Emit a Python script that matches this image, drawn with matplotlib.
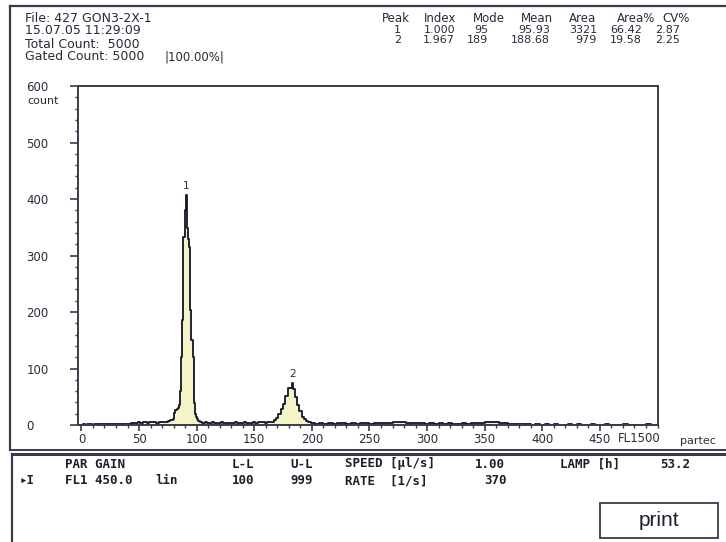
import numpy as np
import matplotlib
matplotlib.use("Agg")
import matplotlib.pyplot as plt
from matplotlib.patches import Rectangle
from matplotlib.lines import Line2D

# ---------------- data ----------------
# histogram channels (FL1) and counts
ch_bg0 = list(range(0, 46, 2))
cnt_bg0 = [0, 1, 0, 1, 1, 0, 1, 2, 1, 1, 2, 1, 1, 2, 1, 2, 2, 1, 2, 1, 2, 2, 3]
ch_bg1 = list(range(46, 79, 2))
cnt_bg1 = [3, 4, 5, 4, 6, 5, 4, 5, 6, 5, 4, 6, 5, 5, 6, 7, 8]
ch_pk1 = list(range(79, 104))
cnt_pk1 = [8, 10, 22, 27, 28, 30, 35, 60, 121, 186, 333, 380, 407, 348, 330,
           315, 203, 150, 121, 39, 20, 14, 10, 7, 5]
ch_bg2 = list(range(104, 166, 2))
cnt_bg2 = [5, 4, 5, 3, 4, 5, 4, 3, 4, 5, 4, 3, 4, 4, 3, 5, 4, 3, 4, 5, 4, 3, 4,
           5, 4, 5, 6, 5, 4, 5, 6]
ch_pk2 = [166, 168, 170, 172, 174, 176, 178, 180, 182, 183, 184, 186, 188, 190,
          192, 194, 196, 198, 200, 202]
cnt_pk2 = [6, 9, 13, 20, 28, 38, 52, 66, 66, 74, 64, 50, 36, 24, 15, 10, 7, 5,
           4, 3]
ch_bg3 = list(range(204, 301, 4))
cnt_bg3 = [2, 3, 2, 3, 2, 3, 3, 2, 3, 2, 3, 3, 2, 3, 4, 3, 4, 5, 6, 5, 4, 4, 3,
           3, 2]
ch_bg4 = list(range(304, 401, 4))
cnt_bg4 = [3, 2, 3, 2, 3, 2, 2, 3, 2, 3, 3, 4, 5, 6, 5, 4, 3, 2, 2, 1, 1, 1, 0,
           1, 0]
ch_bg5 = list(range(404, 501, 4))
cnt_bg5 = [1, 0, 1, 0, 0, 1, 0, 1, 0, 0, 1, 0, 0, 1, 0, 0, 0, 1, 0, 0, 0, 0, 1,
           0, 0]

peak_labels = ["1", "2"]
peak_pos = [91, 183]
peak_top = [407, 74]

y_ticks = [0, 100, 200, 300, 400, 500, 600]
x_ticks = [0, 50, 100, 150, 200, 250, 300, 350, 400, 450]

header_left = ["File: 427 GON3-2X-1", "15.07.05 11:29:09",
               "Total Count:  5000", "Gated Count: 5000"]
gated_pct = "|100.00%|"
stat_cols = ["Peak", "Index", "Mode", "Mean", "Area", "Area%", "CV%"]
stat_rows = [["1", "1.000", "95", "95.93", "3321", "66.42", "2.87"],
             ["2", "1.967", "189", "188.68", "979", "19.58", "2.25"]]

channels = np.array(ch_bg0 + ch_bg1 + ch_pk1 + ch_bg2 + ch_pk2 + ch_bg3 +
                    ch_bg4 + ch_bg5)
counts = np.array(cnt_bg0 + cnt_bg1 + cnt_pk1 + cnt_bg2 + cnt_pk2 + cnt_bg3 +
                  cnt_bg4 + cnt_bg5)

# ---------------- figure ----------------
W, H = 726, 542
fig = plt.figure(figsize=(W / 100, H / 100), dpi=100)
fig.patch.set_facecolor("white")

TXT = "#2a2a38"
FRAME = "#3a3a4a"


def fx(x):
    return x / W


def fy(y):
    return 1 - y / H


# outer frames
fig.add_artist(Line2D([fx(10), fx(10)], [fy(6), fy(450)], color=FRAME, lw=1.6))
fig.add_artist(Line2D([fx(10), fx(726)], [fy(6), fy(6)], color=FRAME, lw=1.6))
fig.add_artist(Line2D([fx(10), fx(726)], [fy(450), fy(450)], color=FRAME, lw=1.4))
fig.add_artist(Line2D([fx(12), fx(726)], [fy(454), fy(454)], color=FRAME, lw=2.2))
fig.add_artist(Line2D([fx(12), fx(12)], [fy(454), fy(542)], color=FRAME, lw=1.6))

# header text
hl_y = [18, 31, 44, 57]
for s, y in zip(header_left, hl_y):
    fig.text(fx(25), fy(y), s, fontsize=9, color=TXT, va="center", ha="left")
fig.text(fx(165), fy(57), gated_pct, fontsize=8.5, color=TXT, va="center",
         ha="left")

head_right = [410, 456, 505, 553, 596, 655, 690]
val_right = [401, 455, 488, 550, 597, 642, 680]
for s, xr in zip(stat_cols, head_right):
    fig.text(fx(xr), fy(18), s, fontsize=8.5, color=TXT, va="center",
             ha="right")
for r, y in zip(stat_rows, [30, 40]):
    for s, xr in zip(r, val_right):
        fig.text(fx(xr), fy(y), s, fontsize=8, color=TXT, va="center",
                 ha="right")

# ---------------- histogram axes ----------------
ax = fig.add_axes([fx(78), fy(425), (657.5 - 78) / W, (425 - 86) / H])
ax.fill_between(channels, counts, step="mid", color="#f4f4c6", lw=0)
ax.step(channels, counts, where="mid", color="#14142a", lw=1.3)
ax.set_xlim(-3, 500)
ax.set_ylim(0, 600)

for s, xp, yp in zip(peak_labels, peak_pos, peak_top):
    ax.text(xp, yp + 8, s, fontsize=7.5, color=TXT, ha="center", va="bottom")

for sp in ax.spines.values():
    sp.set_color(FRAME)
    sp.set_linewidth(1.4)

ax.set_yticks(y_ticks)
ax.set_yticks(np.arange(0, 601, 20), minor=True)
ax.set_xticks(x_ticks)
ax.set_xticks(np.arange(0, 501, 10), minor=True)
ax.tick_params(axis="y", which="major", length=6, width=1.2, color=FRAME,
               labelsize=8.5, labelcolor=TXT, pad=31)
ax.tick_params(axis="y", which="minor", length=2.5, width=1.0, color=FRAME)
ax.tick_params(axis="x", which="major", length=4, width=1.2, color=FRAME,
               labelsize=8.5, labelcolor=TXT, pad=2)
ax.tick_params(axis="x", which="minor", length=2.5, width=1.0, color=FRAME)
ax.set_yticklabels([str(v) for v in y_ticks], ha="left")
ax.set_xticklabels([str(v) for v in x_ticks])

fig.text(fx(27), fy(101), "count", fontsize=8, color=TXT, va="center",
         ha="left")
fig.text(fx(661), fy(438), "FL1500", fontsize=8.5, color=TXT, va="center",
         ha="right")
fig.text(fx(680), fy(441), "partec", fontsize=8, color=TXT, va="center",
         ha="left")

# ---------------- lower status panel ----------------
mono = dict(family=["DejaVu Sans Mono", "DejaVu Sans"], fontsize=9,
            fontweight="bold", color="#1e1e2a", va="center", ha="left")
row1 = [("PAR GAIN", 65), ("L-L", 232), ("U-L", 290), ("SPEED [\u00b5l/s]", 345),
        ("1.00", 475), ("LAMP [h]", 560), ("53.2", 660)]
row2 = [("\u25b8I", 20), ("FL1 450.0", 65), ("lin", 155), ("100", 232),
        ("999", 290), ("RATE  [1/s]", 345), ("370", 484)]
for s, x in row1:
    fig.text(fx(x), fy(464), s, **mono)
for s, x in row2:
    fig.text(fx(x), fy(481), s, **mono)

fig.add_artist(Rectangle((fx(600), fy(538)), (718 - 600) / W, (538 - 503) / H,
                         transform=fig.transFigure, fill=False,
                         edgecolor=FRAME, lw=1.3))
fig.text(fx(659), fy(520), "print", fontsize=15, color="#1e1e2a", ha="center",
         va="center", family="Liberation Sans")

fig.savefig("out.png", dpi=100)
